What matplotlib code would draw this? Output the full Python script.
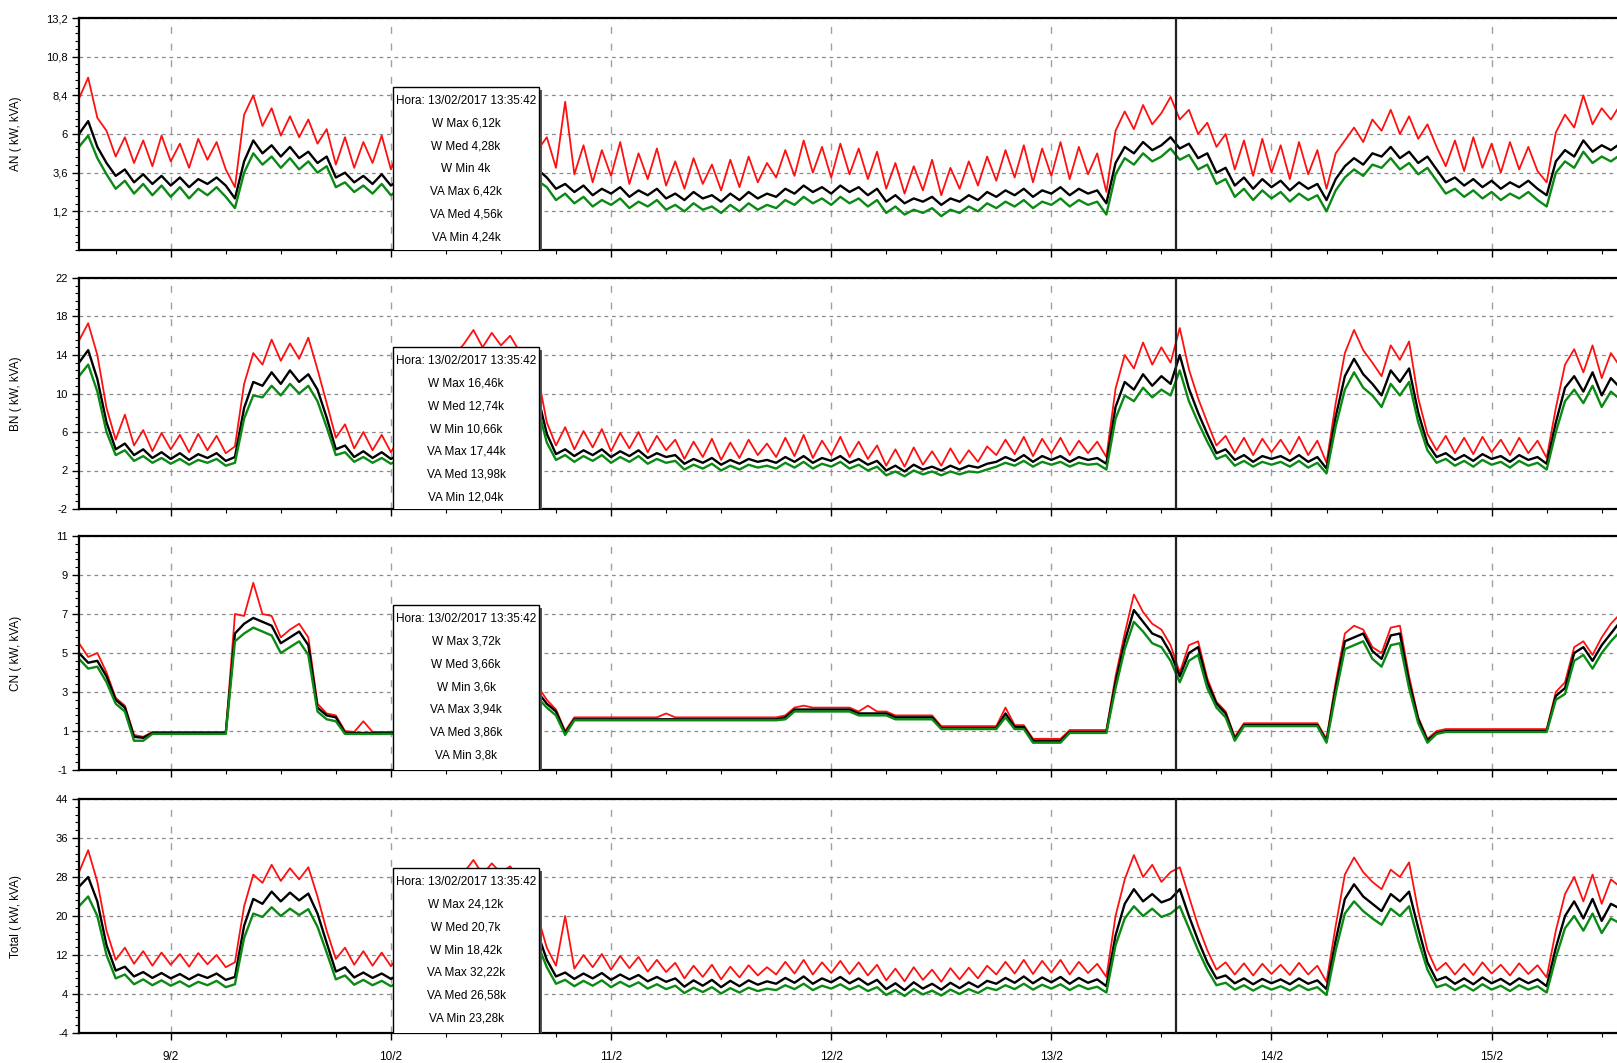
import matplotlib
matplotlib.use('Agg')
import matplotlib.pyplot as plt
from matplotlib.patches import Rectangle
from matplotlib.ticker import FixedLocator, AutoMinorLocator
import matplotlib.dates as mdates
import pandas as pd

# leituras horárias, de 08/02/2017 14:00 até 15/02/2017 14:00
inicio = '2017-02-08 14:00'
fim_janela = '2017-02-15 13:40'
hora_cursor = '2017-02-13 13:35:42'

# ---------------- AN ----------------
an_max = [8.2, 9.5, 7.0, 6.2, 4.6, 5.8, 4.2, 5.6, 4.0, 5.9, 4.3, 5.4,
          3.9, 5.7, 4.4, 5.5, 3.8, 2.7, 7.2, 8.4, 6.5, 7.6, 5.9, 7.1,
          5.8, 6.9, 5.4, 6.3, 4.1, 5.8, 3.9, 5.5, 4.2, 5.9, 3.8, 5.2,
          4.0, 5.4, 4.2, 5.0, 6.8, 7.5, 6.2, 7.8, 6.4, 7.2, 6.0, 7.4,
          6.1, 6.6, 5.0, 5.8, 3.9, 8.0, 3.5, 5.3, 3.0, 5.0, 3.4, 5.5,
          2.9, 4.8, 3.2, 5.1, 2.8, 4.3, 2.6, 4.5, 2.9, 4.1, 2.5, 4.4,
          2.7, 4.6, 3.0, 4.2, 3.3, 5.0, 3.4, 5.6, 3.6, 5.2, 3.3, 5.4,
          3.5, 5.1, 3.2, 4.9, 2.6, 4.2, 2.3, 4.0, 2.5, 4.4, 2.2, 3.9,
          2.6, 4.3, 2.8, 4.6, 3.1, 5.0, 3.3, 5.3, 3.0, 5.1, 3.4, 5.5,
          3.2, 5.2, 3.5, 4.8, 2.4, 6.2, 7.4, 6.3, 7.8, 6.6, 7.3, 8.3,
          6.9, 7.5, 6.0, 6.7, 5.2, 6.0, 3.8, 5.6, 3.4, 5.7, 3.6, 5.3,
          3.2, 5.5, 3.5, 5.0, 2.6, 4.8, 5.6, 6.4, 5.5, 6.9, 6.2, 7.5,
          6.0, 7.1, 5.7, 6.6, 5.2, 4.0, 5.6, 3.7, 5.8, 3.9, 5.4, 3.6,
          5.5, 3.8, 5.2, 3.7, 3.0, 6.1, 7.2, 6.4, 8.4, 6.6, 7.6, 6.9,
          7.8]
an_med = [6.0, 6.8, 5.2, 4.2, 3.4, 3.8, 3.0, 3.5, 2.9, 3.4, 2.8, 3.3,
          2.7, 3.2, 2.9, 3.3, 2.8, 2.0, 4.3, 5.6, 4.8, 5.3, 4.6, 5.2,
          4.5, 4.9, 4.2, 4.6, 3.3, 3.6, 3.0, 3.4, 2.9, 3.5, 2.8, 3.2,
          2.9, 3.3, 3.0, 3.2, 4.6, 5.2, 4.7, 5.3, 4.8, 5.1, 4.6, 5.2,
          4.7, 4.9, 3.8, 3.3, 2.6, 2.9, 2.4, 2.8, 2.2, 2.6, 2.3, 2.7,
          2.1, 2.5, 2.2, 2.6, 2.0, 2.3, 1.9, 2.4, 2.0, 2.2, 1.8, 2.3,
          1.9, 2.4, 2.0, 2.3, 2.1, 2.6, 2.3, 2.8, 2.4, 2.7, 2.3, 2.8,
          2.4, 2.7, 2.2, 2.6, 1.8, 2.2, 1.7, 2.0, 1.8, 2.1, 1.6, 2.0,
          1.8, 2.2, 1.9, 2.4, 2.1, 2.5, 2.2, 2.6, 2.1, 2.5, 2.3, 2.7,
          2.2, 2.6, 2.3, 2.5, 1.7, 4.2, 5.2, 4.8, 5.5, 5.0, 5.3, 5.8,
          5.1, 5.4, 4.5, 4.8, 3.6, 3.9, 2.8, 3.3, 2.6, 3.2, 2.7, 3.1,
          2.5, 3.0, 2.6, 2.9, 1.9, 3.2, 4.0, 4.5, 4.1, 4.8, 4.6, 5.2,
          4.5, 4.9, 4.2, 4.6, 3.8, 3.0, 3.3, 2.8, 3.2, 2.7, 3.1, 2.6,
          3.0, 2.7, 3.1, 2.6, 2.2, 4.3, 5.0, 4.6, 5.6, 4.9, 5.3, 5.0,
          5.4]
an_min = [5.2, 5.9, 4.5, 3.5, 2.6, 3.1, 2.3, 2.9, 2.2, 2.8, 2.1, 2.7,
          2.0, 2.6, 2.2, 2.7, 2.1, 1.4, 3.6, 4.8, 4.1, 4.6, 3.9, 4.5,
          3.8, 4.3, 3.6, 4.0, 2.7, 3.0, 2.4, 2.8, 2.3, 2.9, 2.2, 2.6,
          2.3, 2.7, 2.4, 2.6, 3.9, 4.5, 4.0, 4.6, 4.1, 4.4, 3.9, 4.5,
          4.0, 4.2, 3.1, 2.7, 1.9, 2.3, 1.7, 2.1, 1.5, 1.9, 1.6, 2.0,
          1.4, 1.8, 1.5, 1.9, 1.3, 1.6, 1.2, 1.7, 1.3, 1.5, 1.1, 1.6,
          1.2, 1.7, 1.3, 1.6, 1.4, 1.9, 1.6, 2.1, 1.7, 2.0, 1.6, 2.1,
          1.7, 2.0, 1.5, 1.9, 1.1, 1.5, 1.0, 1.3, 1.1, 1.4, 0.9, 1.3,
          1.1, 1.5, 1.2, 1.7, 1.4, 1.8, 1.5, 1.9, 1.4, 1.8, 1.6, 2.0,
          1.5, 1.9, 1.6, 1.8, 1.0, 3.5, 4.5, 4.1, 4.8, 4.3, 4.6, 5.1,
          4.4, 4.7, 3.8, 4.1, 2.9, 3.2, 2.1, 2.6, 1.9, 2.5, 2.0, 2.4,
          1.8, 2.3, 1.9, 2.2, 1.2, 2.5, 3.3, 3.8, 3.4, 4.1, 3.9, 4.5,
          3.8, 4.2, 3.5, 3.9, 3.1, 2.3, 2.6, 2.1, 2.5, 2.0, 2.4, 1.9,
          2.3, 2.0, 2.4, 1.9, 1.5, 3.6, 4.3, 3.9, 4.9, 4.2, 4.6, 4.3,
          4.7]

# ---------------- BN ----------------
bn_max = [15.5, 17.3, 14.0, 8.5, 5.2, 7.8, 4.6, 6.2, 4.0, 5.9, 4.2, 5.7,
          3.9, 5.8, 4.1, 5.6, 3.8, 4.5, 11.0, 14.2, 13.0, 15.6, 13.4, 15.2,
          13.6, 15.8, 12.5, 9.0, 5.4, 6.8, 4.3, 6.0, 4.1, 5.7, 3.9, 5.5,
          4.0, 5.4, 4.2, 5.2, 9.0, 14.0, 15.2, 16.6, 14.8, 16.3, 15.0, 16.0,
          14.4, 13.6, 12.0, 7.0, 4.6, 6.5, 4.2, 6.1, 4.4, 6.3, 4.0, 5.9,
          4.3, 6.0, 3.9, 5.6, 4.1, 5.2, 3.2, 5.0, 3.4, 5.3, 3.1, 4.9,
          3.3, 5.2, 3.6, 4.8, 3.4, 5.4, 3.5, 5.7, 3.3, 5.1, 3.6, 5.5,
          3.4, 5.0, 3.2, 4.6, 2.5, 4.2, 2.4, 4.4, 2.6, 4.0, 2.5, 4.3,
          2.7, 4.1, 2.9, 4.5, 3.6, 5.2, 3.7, 5.5, 3.5, 5.3, 3.8, 5.4,
          3.6, 5.1, 3.8, 5.0, 3.4, 10.5, 14.0, 12.6, 15.3, 13.0, 14.8, 13.2,
          16.8, 12.5, 9.5, 7.0, 4.6, 5.6, 3.8, 5.4, 3.6, 5.3, 3.9, 5.2,
          3.7, 5.5, 3.6, 5.1, 2.8, 9.0, 14.2, 16.6, 14.5, 13.2, 11.8, 15.0,
          13.5, 15.4, 9.5, 5.8, 4.1, 5.6, 3.8, 5.4, 3.7, 5.5, 3.9, 5.2,
          3.6, 5.4, 3.8, 5.1, 3.3, 8.5, 13.0, 14.6, 12.2, 15.0, 11.6, 14.2,
          12.8]
bn_med = [13.2, 14.5, 11.5, 7.0, 4.2, 4.8, 3.6, 4.2, 3.3, 3.9, 3.2, 3.8,
          3.1, 3.7, 3.3, 3.8, 3.0, 3.4, 8.5, 11.2, 10.8, 12.2, 11.0, 12.4,
          11.2, 12.0, 10.4, 7.5, 4.2, 4.6, 3.4, 4.0, 3.3, 3.9, 3.2, 3.7,
          3.3, 3.8, 3.4, 3.7, 7.2, 11.5, 12.2, 13.4, 12.0, 13.0, 12.2, 12.8,
          11.8, 11.0, 9.8, 5.8, 3.7, 4.2, 3.5, 4.1, 3.6, 4.2, 3.4, 4.0,
          3.5, 4.1, 3.3, 3.8, 3.4, 3.6, 2.7, 3.2, 2.8, 3.3, 2.6, 3.1,
          2.7, 3.2, 2.9, 3.1, 2.8, 3.4, 2.9, 3.5, 2.8, 3.3, 3.0, 3.5,
          2.8, 3.2, 2.6, 3.0, 2.0, 2.5, 1.9, 2.6, 2.1, 2.4, 2.0, 2.5,
          2.1, 2.5, 2.3, 2.7, 2.9, 3.4, 3.0, 3.6, 2.9, 3.5, 3.1, 3.5,
          2.9, 3.4, 3.1, 3.3, 2.7, 8.6, 11.2, 10.4, 12.0, 10.8, 11.8, 11.0,
          14.0, 10.5, 8.0, 5.8, 3.8, 4.2, 3.1, 3.6, 2.9, 3.5, 3.2, 3.5,
          3.0, 3.6, 2.9, 3.4, 2.2, 7.6, 11.8, 13.6, 12.0, 11.0, 9.8, 12.4,
          11.2, 12.6, 8.0, 4.8, 3.4, 3.8, 3.1, 3.6, 3.0, 3.7, 3.2, 3.5,
          2.9, 3.6, 3.1, 3.4, 2.7, 7.0, 10.6, 11.8, 10.2, 12.2, 9.8, 11.6,
          10.6]
bn_min = [11.8, 13.0, 10.2, 6.0, 3.6, 4.1, 3.0, 3.5, 2.8, 3.3, 2.7, 3.2,
          2.6, 3.1, 2.8, 3.2, 2.5, 2.8, 7.4, 9.8, 9.6, 10.8, 9.8, 11.0,
          10.0, 10.8, 9.2, 6.5, 3.6, 3.9, 2.9, 3.4, 2.8, 3.3, 2.7, 3.2,
          2.8, 3.2, 2.9, 3.1, 6.2, 10.2, 10.9, 12.0, 10.8, 11.6, 10.9, 11.4,
          10.5, 9.8, 8.6, 4.9, 3.1, 3.6, 2.9, 3.5, 3.0, 3.6, 2.8, 3.4,
          2.9, 3.5, 2.7, 3.2, 2.8, 3.0, 2.1, 2.6, 2.2, 2.7, 2.0, 2.5,
          2.1, 2.6, 2.3, 2.5, 2.2, 2.8, 2.3, 2.9, 2.2, 2.7, 2.4, 2.9,
          2.2, 2.6, 2.0, 2.4, 1.5, 1.9, 1.4, 2.0, 1.6, 1.9, 1.5, 1.9,
          1.6, 1.9, 1.8, 2.1, 2.4, 2.8, 2.5, 3.0, 2.4, 2.9, 2.6, 2.9,
          2.4, 2.8, 2.6, 2.7, 2.1, 7.4, 9.8, 9.2, 10.6, 9.6, 10.4, 9.8,
          12.4, 9.2, 7.0, 5.0, 3.2, 3.6, 2.5, 3.0, 2.4, 2.9, 2.6, 2.9,
          2.4, 3.0, 2.3, 2.8, 1.7, 6.6, 10.4, 12.2, 10.6, 9.8, 8.6, 11.0,
          9.8, 11.2, 7.0, 4.1, 2.8, 3.2, 2.5, 3.0, 2.4, 3.1, 2.6, 2.9,
          2.3, 3.0, 2.5, 2.8, 2.1, 6.0, 9.2, 10.4, 9.0, 10.8, 8.6, 10.2,
          9.4]

# ---------------- CN ----------------
cn_max = [5.5, 4.8, 5.0, 4.0, 2.7, 2.3, 0.8, 0.7, 0.95, 0.95, 0.95, 0.95,
          0.95, 0.95, 0.95, 0.95, 0.95, 7.0, 6.9, 8.6, 7.0, 6.9, 5.8, 6.2,
          6.5, 5.8, 2.4, 1.9, 1.8, 1.0, 0.95, 1.5, 0.95, 0.95, 0.95, 0.95,
          0.95, 0.95, 0.95, 0.95, 3.8, 5.7, 6.2, 6.4, 6.0, 6.3, 5.8, 5.4,
          4.8, 3.9, 3.3, 2.6, 2.1, 1.0, 1.7, 1.7, 1.7, 1.7, 1.7, 1.7,
          1.7, 1.7, 1.7, 1.7, 1.9, 1.7, 1.7, 1.7, 1.7, 1.7, 1.7, 1.7,
          1.7, 1.7, 1.7, 1.7, 1.7, 1.8, 2.2, 2.3, 2.2, 2.2, 2.2, 2.2,
          2.2, 2.0, 2.3, 2.0, 2.0, 1.8, 1.8, 1.8, 1.8, 1.8, 1.25, 1.25,
          1.25, 1.25, 1.25, 1.25, 1.25, 2.2, 1.3, 1.3, 0.6, 0.6, 0.6, 0.6,
          1.05, 1.05, 1.05, 1.05, 1.05, 3.8, 6.0, 8.0, 7.1, 6.5, 6.2, 5.4,
          4.0, 5.4, 5.6, 3.7, 2.5, 2.0, 0.7, 1.4, 1.4, 1.4, 1.4, 1.4,
          1.4, 1.4, 1.4, 1.4, 0.6, 3.5, 6.0, 6.4, 6.2, 5.3, 5.0, 6.3,
          6.4, 3.8, 1.7, 0.6, 1.0, 1.1, 1.1, 1.1, 1.1, 1.1, 1.1, 1.1,
          1.1, 1.1, 1.1, 1.1, 1.1, 3.0, 3.5, 5.3, 5.6, 4.9, 5.8, 6.5,
          7.0]
cn_med = [5.0, 4.5, 4.6, 3.8, 2.6, 2.2, 0.7, 0.65, 0.9, 0.9, 0.9, 0.9,
          0.9, 0.9, 0.9, 0.9, 0.9, 6.0, 6.5, 6.8, 6.6, 6.4, 5.5, 5.8,
          6.1, 5.4, 2.2, 1.8, 1.7, 0.9, 0.9, 0.9, 0.9, 0.9, 0.9, 0.9,
          0.9, 0.9, 0.9, 0.9, 3.5, 5.2, 5.6, 5.9, 5.5, 5.8, 5.3, 5.0,
          4.4, 3.6, 3.0, 2.4, 2.0, 0.9, 1.6, 1.6, 1.6, 1.6, 1.6, 1.6,
          1.6, 1.6, 1.6, 1.6, 1.6, 1.6, 1.6, 1.6, 1.6, 1.6, 1.6, 1.6,
          1.6, 1.6, 1.6, 1.6, 1.6, 1.7, 2.1, 2.1, 2.1, 2.1, 2.1, 2.1,
          2.1, 1.9, 1.9, 1.9, 1.9, 1.7, 1.7, 1.7, 1.7, 1.7, 1.15, 1.15,
          1.15, 1.15, 1.15, 1.15, 1.15, 1.9, 1.2, 1.2, 0.5, 0.5, 0.5, 0.5,
          0.95, 0.95, 0.95, 0.95, 0.95, 3.5, 5.6, 7.2, 6.6, 6.0, 5.8, 5.0,
          3.8, 5.0, 5.3, 3.5, 2.4, 1.9, 0.6, 1.3, 1.3, 1.3, 1.3, 1.3,
          1.3, 1.3, 1.3, 1.3, 0.5, 3.2, 5.6, 5.8, 6.0, 5.1, 4.7, 5.9,
          6.0, 3.5, 1.6, 0.5, 0.9, 1.0, 1.0, 1.0, 1.0, 1.0, 1.0, 1.0,
          1.0, 1.0, 1.0, 1.0, 1.0, 2.8, 3.2, 5.0, 5.3, 4.6, 5.4, 6.0,
          6.6]
cn_min = [4.7, 4.2, 4.3, 3.5, 2.4, 2.0, 0.5, 0.5, 0.85, 0.85, 0.85, 0.85,
          0.85, 0.85, 0.85, 0.85, 0.85, 5.6, 6.0, 6.3, 6.1, 5.9, 5.0, 5.3,
          5.6, 4.9, 2.0, 1.6, 1.5, 0.85, 0.85, 0.85, 0.85, 0.85, 0.85, 0.85,
          0.85, 0.85, 0.85, 0.85, 3.2, 4.8, 5.2, 5.5, 5.1, 5.4, 4.9, 4.6,
          4.0, 3.3, 2.7, 2.2, 1.8, 0.8, 1.55, 1.55, 1.55, 1.55, 1.55, 1.55,
          1.55, 1.55, 1.55, 1.55, 1.55, 1.55, 1.55, 1.55, 1.55, 1.55, 1.55, 1.55,
          1.55, 1.55, 1.55, 1.55, 1.55, 1.6, 2.0, 2.0, 2.0, 2.0, 2.0, 2.0,
          2.0, 1.8, 1.8, 1.8, 1.8, 1.6, 1.6, 1.6, 1.6, 1.6, 1.1, 1.1,
          1.1, 1.1, 1.1, 1.1, 1.1, 1.7, 1.1, 1.1, 0.4, 0.4, 0.4, 0.4,
          0.9, 0.9, 0.9, 0.9, 0.9, 3.2, 5.2, 6.6, 6.1, 5.5, 5.3, 4.6,
          3.5, 4.6, 4.9, 3.2, 2.2, 1.7, 0.5, 1.25, 1.25, 1.25, 1.25, 1.25,
          1.25, 1.25, 1.25, 1.25, 0.4, 2.9, 5.2, 5.4, 5.6, 4.7, 4.3, 5.4,
          5.5, 3.2, 1.4, 0.4, 0.85, 0.95, 0.95, 0.95, 0.95, 0.95, 0.95, 0.95,
          0.95, 0.95, 0.95, 0.95, 0.95, 2.6, 2.9, 4.6, 4.9, 4.2, 5.0, 5.6,
          6.1]

# ---------------- Total ----------------
tot_max = [29.0, 33.5, 27.0, 17.0, 11.0, 13.5, 10.2, 12.8, 9.8, 12.5, 10.0, 12.2,
           9.6, 12.4, 10.1, 12.0, 9.5, 10.5, 22.0, 28.5, 26.8, 30.5, 27.2, 29.8,
           27.5, 30.0, 24.0, 17.0, 11.2, 13.5, 10.0, 12.8, 9.8, 12.5, 9.7, 12.0,
           9.8, 12.2, 10.0, 11.8, 18.0, 27.0, 29.0, 31.5, 28.5, 30.8, 28.8, 30.2,
           27.5, 25.0, 20.0, 13.5, 9.8, 20.0, 9.2, 12.0, 9.5, 12.2, 9.0, 11.8,
           9.3, 11.6, 8.6, 11.0, 8.5, 10.4, 7.2, 9.8, 7.5, 10.0, 7.0, 9.6,
           7.4, 9.9, 7.8, 9.5, 8.0, 10.6, 8.2, 11.0, 8.0, 10.5, 8.3, 10.8,
           8.1, 10.5, 7.8, 10.0, 6.8, 9.2, 6.6, 9.5, 6.9, 9.0, 6.5, 9.3,
           7.0, 9.4, 7.2, 9.8, 8.0, 10.6, 8.2, 11.0, 8.1, 10.8, 8.4, 11.0,
           8.0, 10.6, 8.3, 10.2, 7.5, 20.0, 27.5, 32.5, 28.0, 30.5, 27.0, 29.0,
           30.0, 24.0, 18.0, 13.0, 9.0, 10.5, 8.0, 10.3, 7.8, 10.2, 8.1, 10.0,
           7.9, 10.4, 8.0, 9.8, 6.5, 18.0, 28.5, 32.0, 29.0, 27.0, 25.5, 29.5,
           28.0, 31.0, 21.0, 13.0, 8.8, 10.4, 8.0, 10.2, 7.9, 10.5, 8.2, 10.0,
           7.8, 10.3, 8.1, 9.9, 7.4, 17.0, 24.5, 28.0, 23.0, 28.5, 22.5, 27.5,
           26.0]
tot_med = [26.0, 28.0, 23.0, 14.0, 8.8, 9.6, 7.6, 8.5, 7.3, 8.3, 7.2, 8.1,
           7.0, 8.0, 7.3, 8.2, 6.9, 7.5, 18.0, 23.5, 22.5, 25.0, 23.0, 24.8,
           23.2, 24.6, 20.5, 14.5, 8.6, 9.5, 7.4, 8.4, 7.3, 8.2, 7.1, 8.0,
           7.2, 8.1, 7.3, 7.9, 15.0, 23.0, 24.0, 26.0, 23.8, 25.5, 24.0, 25.0,
           23.0, 21.0, 16.5, 11.0, 7.6, 8.4, 7.1, 8.2, 7.2, 8.3, 6.9, 8.0,
           7.0, 7.9, 6.6, 7.5, 6.5, 7.2, 5.5, 6.8, 5.7, 6.9, 5.4, 6.7,
           5.6, 6.8, 5.9, 6.6, 6.1, 7.3, 6.3, 7.6, 6.1, 7.2, 6.4, 7.5,
           6.2, 7.2, 5.9, 6.9, 5.0, 6.2, 4.8, 6.4, 5.1, 6.1, 4.9, 6.3,
           5.2, 6.4, 5.4, 6.7, 6.1, 7.3, 6.3, 7.6, 6.2, 7.4, 6.4, 7.5,
           6.1, 7.3, 6.3, 7.0, 5.6, 16.0, 22.5, 25.5, 23.0, 24.5, 22.8, 23.5,
           25.5, 20.0, 15.0, 10.5, 7.2, 7.8, 6.2, 7.2, 6.0, 7.1, 6.2, 7.0,
           6.0, 7.2, 6.1, 6.8, 5.0, 15.0, 23.5, 26.5, 24.0, 22.5, 21.0, 24.5,
           23.0, 25.0, 17.5, 10.5, 6.8, 7.5, 6.1, 7.2, 6.0, 7.4, 6.2, 7.1,
           5.9, 7.2, 6.2, 7.0, 5.6, 13.5, 20.0, 23.0, 19.5, 23.5, 19.0, 22.5,
           21.5]
tot_min = [22.0, 24.0, 20.0, 12.0, 7.2, 8.0, 6.0, 7.0, 5.8, 6.8, 5.7, 6.6,
           5.5, 6.5, 5.8, 6.7, 5.4, 6.0, 15.5, 20.5, 19.8, 21.8, 20.0, 21.5,
           20.2, 21.4, 17.8, 12.5, 7.0, 7.8, 5.9, 6.9, 5.8, 6.7, 5.6, 6.5,
           5.7, 6.6, 5.8, 6.4, 13.0, 20.0, 21.0, 22.8, 20.8, 22.2, 21.0, 21.8,
           20.0, 18.2, 14.2, 9.5, 6.1, 6.9, 5.6, 6.7, 5.7, 6.8, 5.4, 6.5,
           5.5, 6.4, 5.1, 6.0, 5.0, 5.7, 4.2, 5.3, 4.4, 5.4, 4.1, 5.2,
           4.3, 5.3, 4.6, 5.1, 4.8, 5.8, 5.0, 6.1, 4.8, 5.7, 5.1, 6.0,
           4.9, 5.7, 4.6, 5.4, 3.8, 4.8, 3.6, 5.0, 3.9, 4.7, 3.7, 4.9,
           4.0, 5.0, 4.2, 5.3, 4.8, 5.8, 5.0, 6.1, 4.9, 5.9, 5.1, 6.0,
           4.8, 5.8, 5.0, 5.5, 4.3, 14.0, 19.5, 22.0, 20.0, 21.5, 19.8, 20.5,
           22.0, 17.5, 13.0, 9.0, 5.8, 6.3, 4.9, 5.8, 4.7, 5.7, 4.9, 5.6,
           4.7, 5.8, 4.8, 5.4, 3.8, 13.0, 20.5, 23.0, 21.0, 19.5, 18.2, 21.5,
           20.0, 22.0, 15.0, 9.0, 5.4, 6.0, 4.8, 5.8, 4.7, 6.0, 4.9, 5.7,
           4.6, 5.8, 4.9, 5.6, 4.3, 11.5, 17.5, 20.0, 17.0, 20.5, 16.5, 19.5,
           18.5]

# eixos e rótulos
nomes = ['AN ( kW, kVA)', 'BN ( kW, kVA)', 'CN ( kW, kVA)', 'Total ( kW, kVA)']
limites = [(-1.2, 13.2), (-2, 22), (-1, 11), (-4, 44)]
yticks = [[1.2, 3.6, 6, 8.4, 10.8, 13.2],
          [-2, 2, 6, 10, 14, 18, 22],
          [-1, 1, 3, 5, 7, 9, 11],
          [-4, 4, 12, 20, 28, 36, 44]]
ytick_labels = [['1,2', '3,6', '6', '8,4', '10,8', '13,2'],
                ['-2', '2', '6', '10', '14', '18', '22'],
                ['-1', '1', '3', '5', '7', '9', '11'],
                ['-4', '4', '12', '20', '28', '36', '44']]
dias = ['2017-02-09', '2017-02-10', '2017-02-11', '2017-02-12',
        '2017-02-13', '2017-02-14', '2017-02-15']
dias_labels = ['9/2', '10/2', '11/2', '12/2', '13/2', '14/2', '15/2']

hora_txt = 'Hora: 13/02/2017 13:35:42'
tooltips = [['W Max 6,12k', 'W Med 4,28k', 'W Min 4k',
             'VA Max 6,42k', 'VA Med 4,56k', 'VA Min 4,24k'],
            ['W Max 16,46k', 'W Med 12,74k', 'W Min 10,66k',
             'VA Max 17,44k', 'VA Med 13,98k', 'VA Min 12,04k'],
            ['W Max 3,72k', 'W Med 3,66k', 'W Min 3,6k',
             'VA Max 3,94k', 'VA Med 3,86k', 'VA Min 3,8k'],
            ['W Max 24,12k', 'W Med 20,7k', 'W Min 18,42k',
             'VA Max 32,22k', 'VA Med 26,58k', 'VA Min 23,28k']]

series = [(an_max, an_med, an_min), (bn_max, bn_med, bn_min),
          (cn_max, cn_med, cn_min), (tot_max, tot_med, tot_min)]

horas = pd.date_range(inicio, periods=len(an_max), freq='h')

fonte = ['Liberation Sans Narrow', 'Liberation Sans', 'DejaVu Sans']

# posição de cada painel em pixels (topo, base) numa figura 1617x1063
W, H = 1617, 1063
px_paineis = [(18, 250), (278, 509), (536, 770), (799, 1033)]
esq = 79

fig = plt.figure(figsize=(W / 100, H / 100), dpi=100)

for k in range(4):
    topo, base = px_paineis[k]
    ax = fig.add_axes([esq / W, 1 - base / H, (W - esq) / W, (base - topo) / H])
    h_px = base - topo

    smax, smed, smin = series[k]
    ax.plot(horas, smax, color='#ff1010', lw=1.3)
    ax.plot(horas, smed, color='black', lw=1.7)
    ax.plot(horas, smin, color='#0a8a14', lw=1.7)

    ax.set_xlim(pd.Timestamp(inicio), pd.Timestamp(fim_janela))
    ax.set_ylim(*limites[k])

    ax.yaxis.set_major_locator(FixedLocator(yticks[k]))
    ax.set_yticklabels(ytick_labels[k], fontfamily=fonte, fontsize=8)
    ax.yaxis.set_minor_locator(AutoMinorLocator(5))

    ax.xaxis.set_major_locator(FixedLocator(mdates.date2num(pd.to_datetime(dias))))
    ax.xaxis.set_minor_locator(mdates.HourLocator(byhour=[0, 6, 12, 18]))
    if k == 3:
        ax.set_xticklabels(dias_labels, fontfamily=fonte, fontsize=8.5)
    else:
        ax.set_xticklabels([])

    ax.tick_params(which='major', direction='out', length=5, width=1, pad=3)
    ax.tick_params(which='minor', direction='out', length=3, width=0.8)
    ax.tick_params(axis='x', which='major', pad=8)

    ax.grid(axis='y', which='major', ls=(0, (3, 3)), color='#8a8a8a', lw=0.9)
    ax.grid(axis='x', which='major', ls=(0, (5, 7)), color='#a0a0a0', lw=1.0)
    ax.set_axisbelow(True)

    for lado in ['top', 'bottom', 'left']:
        ax.spines[lado].set_linewidth(1.6)
    ax.spines['right'].set_visible(False)

    ax.set_ylabel(nomes[k], fontsize=8.5, family=fonte)
    ax.yaxis.set_label_coords(-0.037, 0.5)

    # cursor
    ax.axvline(pd.Timestamp(hora_cursor), color='#222222', lw=1.6, zorder=5)

    # caixa de informação
    x0 = (393 - esq) / (W - esq)
    larg = 146 / (W - esq)
    topo_caixa = 1 - 69 / h_px
    sombra = Rectangle((x0 + 3 / (W - esq), -0.1), larg, topo_caixa + 0.1 - 3 / h_px,
                       transform=ax.transAxes, facecolor='#555555', edgecolor='none',
                       zorder=9, clip_on=True)
    ax.add_patch(sombra)
    caixa = Rectangle((x0, -0.1), larg, topo_caixa + 0.1, transform=ax.transAxes,
                      facecolor='white', edgecolor='black', lw=1.0, zorder=10, clip_on=True)
    ax.add_patch(caixa)
    linhas = [hora_txt] + tooltips[k]
    for j, txt in enumerate(linhas):
        ax.text(x0 + larg / 2, topo_caixa - (14 + 22.7 * j) / h_px, txt,
                transform=ax.transAxes, ha='center', va='center',
                fontsize=8.5, family=fonte, zorder=11)

fig.savefig('out.png', dpi=100)
